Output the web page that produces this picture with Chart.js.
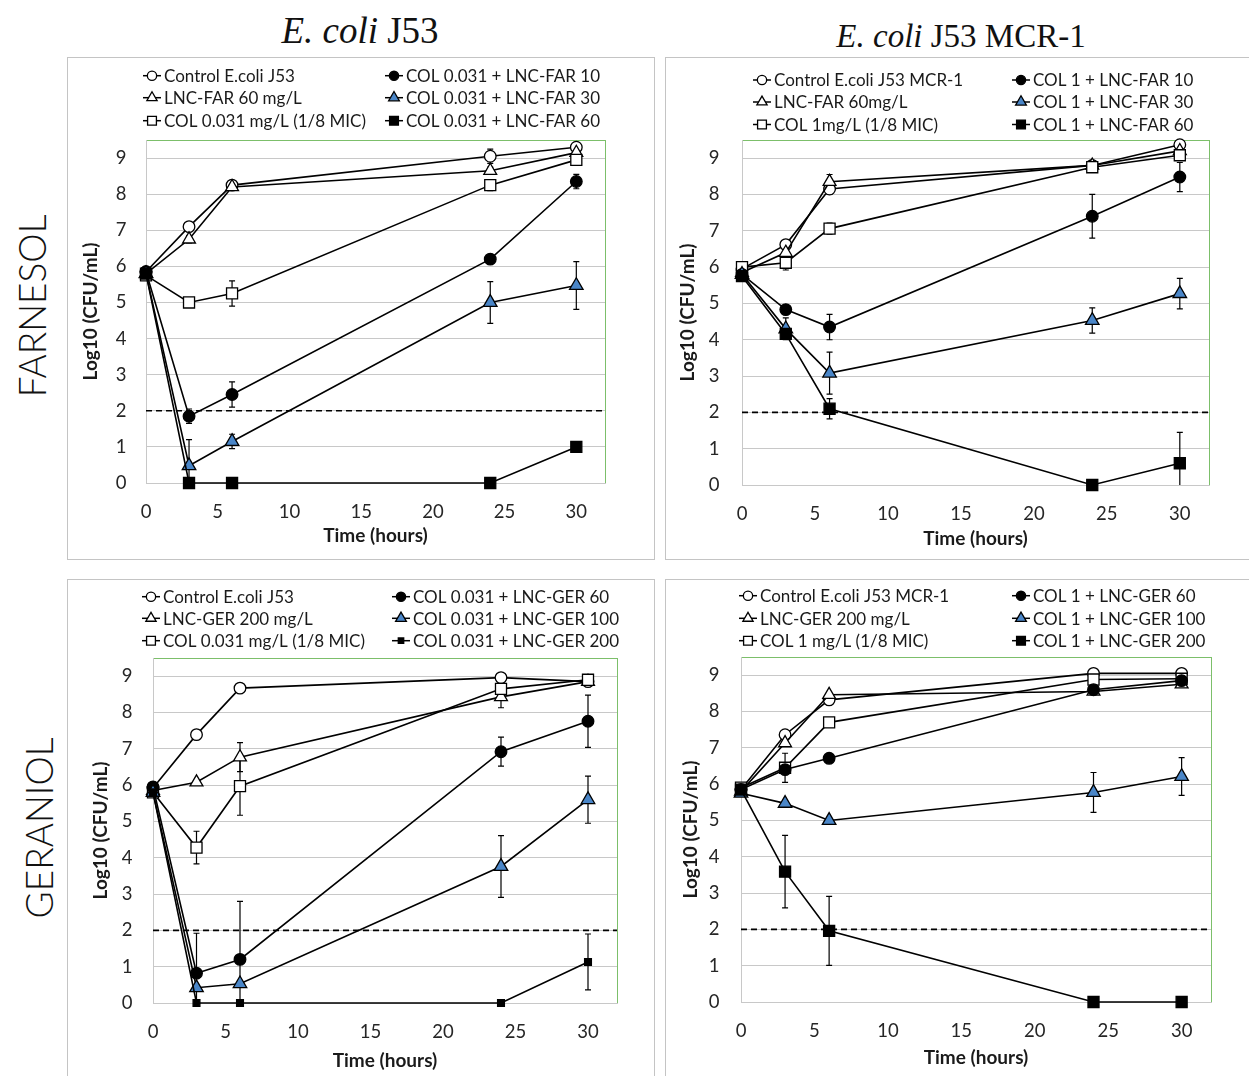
<!DOCTYPE html>
<html><head><meta charset="utf-8">
<script src="https://cdn.jsdelivr.net/npm/chart.js@4.4.0/dist/chart.umd.min.js"></script>
<style>
body{margin:0;background:#fff;width:1249px;height:1076px;overflow:hidden;position:relative;font-family:Lato,sans-serif}
.box{position:absolute;border:1px solid #c4c4c4;box-sizing:border-box}
canvas{position:absolute}
.title{position:absolute;font-family:"Liberation Serif",serif;white-space:nowrap;transform:translate(-50%,-50%);color:#111}
.row{position:absolute;font-family:Lato,sans-serif;font-weight:300;white-space:nowrap;transform:translate(-50%,-50%) rotate(-90deg);color:#111}
</style></head><body>
<div class="title" style="left:360px;top:30px;font-size:37px"><i>E. coli</i> J53</div>
<div class="title" style="left:961px;top:36px;font-size:33px"><i>E. coli</i> J53 MCR-1</div>
<div class="row" style="left:31px;top:306px;font-size:37px">FARNESOL</div>
<div class="row" style="left:38px;top:828px;font-size:37px">GERANIOL</div>
<div class="box" style="left:67px;top:57px;width:588px;height:503px"></div>
<div class="box" style="left:665px;top:57px;width:600px;height:503px"></div>
<div class="box" style="left:67px;top:579px;width:588px;height:520px"></div>
<div class="box" style="left:665px;top:579px;width:600px;height:520px"></div>
<canvas id="c1" width="588" height="503" style="left:67px;top:57px"></canvas>
<canvas id="c2" width="584" height="503" style="left:665px;top:57px"></canvas>
<canvas id="c3" width="588" height="497" style="left:67px;top:579px"></canvas>
<canvas id="c4" width="584" height="497" style="left:665px;top:579px"></canvas>
<script>
// ---------- shared axes ----------
const times = [0, 3, 6, 24, 30];
const xTickValues = [0, 5, 10, 15, 20, 25, 30];
const yTickValues = [0, 1, 2, 3, 4, 5, 6, 7, 8, 9];
const xMax = 32;
const yMax = 9.5;
const detectionLimit = 2;
const xTitle = 'Time (hours)';
const yTitle = 'Log10 (CFU/mL)';

// ---------- FARNESOL / E. coli J53 ----------
const farJ53Labels = ['Control E.coli J53', 'LNC-FAR 60 mg/L', 'COL 0.031 mg/L (1/8 MIC)', 'COL 0.031 + LNC-FAR 10', 'COL 0.031 + LNC-FAR 30', 'COL 0.031 + LNC-FAR 60'];
const farJ53Control = [5.85, 7.1, 8.25, 9.05, 9.3];
const farJ53Lnc     = [5.8, 6.75, 8.2, 8.65, 9.15];
const farJ53Col     = [5.75, 5.0, 5.25, 8.25, 8.95];
const farJ53Mix10   = [5.85, 1.85, 2.45, 6.2, 8.35];
const farJ53Mix30   = [5.8, 0.48, 1.15, 5.0, 5.47];
const farJ53Mix60   = [5.8, 0, 0, 0, 1.0];
const farJ53ControlErr = [0, 0, 0, 0.2, 0.05];
const farJ53LncErr     = [0, 0.1, 0, 0.1, 0];
const farJ53ColErr     = [0, 0, 0.35, 0.15, 0.1];
const farJ53Mix10Err   = [0, 0.2, 0.35, 0, 0.2];
const farJ53Mix30Err   = [0, 0.72, 0.2, 0.58, 0.66];
const farJ53Mix60Err   = [0, 0, 0, 0, 0];

// ---------- FARNESOL / E. coli J53 MCR-1 ----------
const farMcrLabels = ['Control E.coli J53 MCR-1', 'LNC-FAR 60mg/L', 'COL 1mg/L (1/8 MIC)', 'COL 1 + LNC-FAR 10', 'COL 1 + LNC-FAR 30', 'COL 1 + LNC-FAR 60'];
const farMcrControl = [5.95, 6.62, 8.15, 8.8, 9.37];
const farMcrLnc     = [5.85, 6.4, 8.35, 8.8, 9.2];
const farMcrCol     = [6.0, 6.12, 7.06, 8.75, 9.08];
const farMcrMix10   = [5.8, 4.83, 4.35, 7.4, 8.48];
const farMcrMix30   = [5.8, 4.3, 3.08, 4.53, 5.27];
const farMcrMix60   = [5.75, 4.16, 2.1, 0, 0.6];
const farMcrControlErr = [0, 0, 0.15, 0.1, 0];
const farMcrLncErr     = [0, 0, 0.2, 0, 0];
const farMcrColErr     = [0, 0.2, 0.15, 0.1, 0.1];
const farMcrMix10Err   = [0, 0, 0.35, 0.6, 0.4];
const farMcrMix30Err   = [0, 0.3, 0.58, 0.35, 0.42];
const farMcrMix60Err   = [0, 0, 0.28, 0, 0.85];

// ---------- GERANIOL / E. coli J53 ----------
const gerJ53Labels = ['Control E.coli J53', 'LNC-GER 200 mg/L', 'COL 0.031 mg/L (1/8 MIC)', 'COL 0.031 + LNC-GER 60', 'COL 0.031 + LNC-GER 100', 'COL 0.031 + LNC-GER 200'];
const gerJ53Control = [5.92, 7.39, 8.67, 8.96, 8.85];
const gerJ53Lnc     = [5.85, 6.08, 6.77, 8.43, 8.85];
const gerJ53Col     = [5.8, 4.28, 5.97, 8.65, 8.9];
const gerJ53Mix60   = [5.95, 0.82, 1.2, 6.92, 7.76];
const gerJ53Mix100  = [5.8, 0.42, 0.53, 3.76, 5.6];
const gerJ53Mix200  = [5.8, 0, 0, 0, 1.13];
const gerJ53ControlErr = [0, 0, 0, 0, 0];
const gerJ53LncErr     = [0, 0, 0.4, 0.3, 0];
const gerJ53ColErr     = [0, 0.45, 0.8, 0, 0];
const gerJ53Mix60Err   = [0, 1.1, 1.6, 0.4, 0.72];
const gerJ53Mix100Err  = [0, 0, 0, 0.85, 0.65];
const gerJ53Mix200Err  = [0, 0, 0, 0, 0.77];

// ---------- GERANIOL / E. coli J53 MCR-1 ----------
const gerMcrLabels = ['Control E.coli J53 MCR-1', 'LNC-GER 200 mg/L', 'COL 1 mg/L (1/8 MIC)', 'COL 1 + LNC-GER 60', 'COL 1 + LNC-GER 100', 'COL 1 + LNC-GER 200'];
const gerMcrControl = [5.85, 7.36, 8.32, 9.05, 9.05];
const gerMcrLnc     = [5.8, 7.13, 8.46, 8.55, 8.75];
const gerMcrCol     = [5.9, 6.45, 7.7, 8.88, 8.9];
const gerMcrMix60   = [5.85, 6.4, 6.71, 8.6, 8.85];
const gerMcrMix100  = [5.75, 5.47, 5.0, 5.77, 6.21];
const gerMcrMix200  = [5.85, 3.59, 1.96, 0, 0];
const gerMcrControlErr = [0, 0, 0, 0, 0];
const gerMcrLncErr     = [0, 0, 0, 0, 0];
const gerMcrColErr     = [0, 0.4, 0, 0, 0];
const gerMcrMix60Err   = [0, 0, 0.12, 0, 0];
const gerMcrMix100Err  = [0, 0, 0, 0.55, 0.52];
const gerMcrMix200Err  = [0, 1.0, 0.95, 0, 0];

// ---------- styling ----------
const BLUE = '#4a86c8';
const GRID = '#c8c8c8';
const GREEN = '#7cbf6a';
const FONT = 'Lato, "Open Sans", sans-serif';
const TICK_SIZE = 18.5;
const TITLE_SIZE = 19;
const markerStyles = [
  {pointStyle: 'circle',   radius: 5.8, fill: '#fff'},
  {pointStyle: 'triangle', radius: 7.4, fill: '#fff'},
  {pointStyle: 'rect',     radius: 7.8, fill: '#fff'},
  {pointStyle: 'circle',   radius: 5.8, fill: '#000'},
  {pointStyle: 'triangle', radius: 7.8, fill: BLUE},
  {pointStyle: 'rect',     radius: 7.8, fill: '#000'}
];

function drawMarker(ctx, style, r, x, y) {
  ctx.save();
  ctx.fillStyle = style.fill; ctx.strokeStyle = '#000'; ctx.lineWidth = 1.3;
  if (Chart.helpers && Chart.helpers.drawPoint) {
    Chart.helpers.drawPoint(ctx, {pointStyle: style.pointStyle, radius: r, borderWidth: 1.3, rotation: 0}, x, y);
  } else {
    ctx.beginPath();
    if (style.pointStyle === 'circle') ctx.arc(x, y, r, 0, Math.PI * 2);
    else if (style.pointStyle === 'rect') { const s = r * Math.SQRT1_2; ctx.rect(x - s, y - s, 2 * s, 2 * s); }
    else { ctx.moveTo(x, y - r); ctx.lineTo(x + r * 0.866, y + r / 2); ctx.lineTo(x - r * 0.866, y + r / 2); ctx.closePath(); }
    ctx.fill(); ctx.stroke();
  }
  ctx.restore();
}

const panelPlugin = {
  id: 'panelDecor',
  beforeDraw(chart) {
    const a = chart.chartArea, ctx = chart.ctx;
    ctx.save();
    ctx.strokeStyle = GREEN; ctx.lineWidth = 1;
    ctx.strokeRect(Math.round(a.left) + 0.5, Math.round(a.top) + 0.5, Math.round(a.right - a.left), Math.round(a.bottom - a.top));
    ctx.restore();
  },
  beforeDatasetsDraw(chart) {
    const ctx = chart.ctx, ys = chart.scales.y;
    ctx.save();
    ctx.strokeStyle = '#000'; ctx.lineWidth = 1.2;
    chart.data.datasets.forEach((ds, i) => {
      if (!ds.errors) return;
      const meta = chart.getDatasetMeta(i);
      ds.errors.forEach((e, j) => {
        if (!e) return;
        const v = ds.data[j].y;
        const px = meta.data[j].x;
        const top = ys.getPixelForValue(v + e);
        const bot = ys.getPixelForValue(Math.max(0, v - e));
        ctx.beginPath();
        ctx.moveTo(px, top); ctx.lineTo(px, bot);
        ctx.moveTo(px - 3, top); ctx.lineTo(px + 3, top);
        if (v - e > 0) { ctx.moveTo(px - 3, bot); ctx.lineTo(px + 3, bot); }
        ctx.stroke();
      });
    });
    ctx.restore();
  },
  afterDraw(chart) {
    const lg = chart.options.plugins.panelDecor;
    const ctx = chart.ctx;
    ctx.save();
    ctx.font = '17px ' + FONT;
    ctx.textBaseline = 'middle'; ctx.textAlign = 'left';
    for (let i = 0; i < 6; i++) {
      const ds = chart.data.datasets[i];
      const mx = lg.cols[Math.floor(i / 3)], my = lg.rows[i % 3];
      ctx.strokeStyle = '#000'; ctx.lineWidth = 1.5;
      ctx.beginPath(); ctx.moveTo(mx - 9, my); ctx.lineTo(mx + 9, my); ctx.stroke();
      drawMarker(ctx, markerStyles[i], ds.pointRadius * 0.8, mx, my);
      ctx.fillStyle = '#1a1a1a';
      ctx.fillText(ds.label, mx + 12, my + 1);
    }
    ctx.restore();
  }
};

function makePanel(id, labels, series, errors, geo, legend, lastRadius) {
  const datasets = series.map((vals, i) => {
    const m = markerStyles[i];
    const r = (i === 5 && lastRadius) ? lastRadius : m.radius;
    return {
      label: labels[i],
      data: times.map((t, j) => ({x: t, y: vals[j]})),
      errors: errors[i],
      borderColor: '#000', borderWidth: 1.6, tension: 0, fill: false,
      pointStyle: m.pointStyle, pointRadius: r, pointHoverRadius: r,
      pointBackgroundColor: m.fill, pointBorderColor: '#000', pointBorderWidth: 1.3,
      clip: false, order: 6 - i
    };
  });
  datasets.push({
    label: 'detection limit',
    data: [{x: 0, y: detectionLimit}, {x: xMax, y: detectionLimit}],
    borderColor: '#000', borderWidth: 1.6, borderDash: [6, 4], pointRadius: 0, order: 20, clip: false
  });
  new Chart(document.getElementById(id), {
    type: 'line',
    data: {datasets},
    options: {
      responsive: false, animation: false, devicePixelRatio: 1,
      layout: {padding: {left: 0, right: geo.pr, top: geo.top, bottom: 0}},
      plugins: {legend: {display: false}, tooltip: {enabled: false}, panelDecor: legend},
      scales: {
        x: {
          type: 'linear', min: 0, max: xMax,
          afterBuildTicks: s => { s.ticks = xTickValues.map(v => ({value: v})); },
          afterFit: s => { s.height = geo.xh; },
          grid: {display: false, drawTicks: false},
          border: {display: true, color: GRID, width: 1},
          ticks: {padding: 17.6, color: '#262626', font: {family: FONT, size: TICK_SIZE}, maxRotation: 0, autoSkip: false},
          title: {display: true, text: xTitle, color: '#1a1a1a', font: {family: FONT, size: TITLE_SIZE, weight: 'bold'}, padding: {top: 0, bottom: geo.xtp}}
        },
        y: {
          type: 'linear', min: 0, max: yMax,
          afterBuildTicks: s => { s.ticks = yTickValues.map(v => ({value: v})); },
          afterFit: s => { s.width = geo.yw; },
          grid: {color: GRID, lineWidth: 1, drawTicks: false},
          border: {display: true, color: GRID, width: 1},
          ticks: {padding: geo.ytpad, color: '#262626', font: {family: FONT, size: TICK_SIZE}},
          title: {display: true, text: yTitle, color: '#1a1a1a', font: {family: FONT, size: TITLE_SIZE, weight: 'bold'}, padding: {top: geo.ytp, bottom: 0}}
        }
      }
    },
    plugins: [panelPlugin]
  });
}

makePanel('c1', farJ53Labels,
  [farJ53Control, farJ53Lnc, farJ53Col, farJ53Mix10, farJ53Mix30, farJ53Mix60],
  [farJ53ControlErr, farJ53LncErr, farJ53ColErr, farJ53Mix10Err, farJ53Mix30Err, farJ53Mix60Err],
  {pr: 50, top: 83, xh: 77, yw: 79, xtp: 12.6, ytp: 12.6, ytpad: 19.5},
  {cols: [85, 327], rows: [18.7, 40.7, 63.7]});

makePanel('c2', farMcrLabels,
  [farMcrControl, farMcrLnc, farMcrCol, farMcrMix10, farMcrMix30, farMcrMix60],
  [farMcrControlErr, farMcrLncErr, farMcrColErr, farMcrMix10Err, farMcrMix30Err, farMcrMix60Err],
  {pr: 40, top: 83, xh: 75, yw: 77, xtp: 9.3, ytp: 11.6, ytpad: 22.5},
  {cols: [97, 356], rows: [23, 45, 67.5]});

makePanel('c3', gerJ53Labels,
  [gerJ53Control, gerJ53Lnc, gerJ53Col, gerJ53Mix60, gerJ53Mix100, gerJ53Mix200],
  [gerJ53ControlErr, gerJ53LncErr, gerJ53ColErr, gerJ53Mix60Err, gerJ53Mix100Err, gerJ53Mix200Err],
  {pr: 38, top: 79, xh: 73, yw: 86, xtp: 3.6, ytp: 22.6, ytpad: 20.5},
  {cols: [84, 334], rows: [17.7, 39.3, 61.7]}, 4.8);

makePanel('c4', gerMcrLabels,
  [gerMcrControl, gerMcrLnc, gerMcrCol, gerMcrMix60, gerMcrMix100, gerMcrMix200],
  [gerMcrControlErr, gerMcrLncErr, gerMcrColErr, gerMcrMix60Err, gerMcrMix100Err, gerMcrMix200Err],
  {pr: 38, top: 78, xh: 74, yw: 76, xtp: 6.3, ytp: 14.6, ytpad: 21.5},
  {cols: [83, 356], rows: [16.7, 39.3, 61.7]});
</script>
</body></html>
